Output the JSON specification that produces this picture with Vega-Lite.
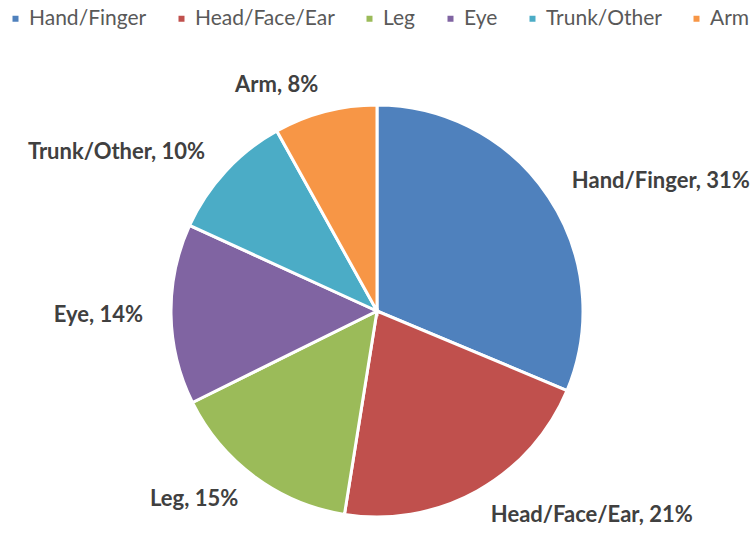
{
  "$schema": "https://vega.github.io/schema/vega-lite/v6.json",
  "width": 754,
  "height": 444,
  "autosize": {"type": "none"},
  "padding": {"top": 89, "left": 0, "right": 0, "bottom": 0},
  "background": "white",
  "config": {"view": {"stroke": null}},
  "data": {
    "values": [
      {"part": "Hand/Finger", "pct": 31, "idx": 1, "label": "Hand/Finger, 31%"},
      {"part": "Head/Face/Ear", "pct": 21, "idx": 2, "label": "Head/Face/Ear, 21%"},
      {"part": "Leg", "pct": 15, "idx": 3, "label": "Leg, 15%"},
      {"part": "Eye", "pct": 14, "idx": 4, "label": "Eye, 14%"},
      {"part": "Trunk/Other", "pct": 10, "idx": 5, "label": "Trunk/Other, 10%"},
      {"part": "Arm", "pct": 8, "idx": 6, "label": "Arm, 8%"}
    ]
  },
  "encoding": {
    "theta": {"field": "pct", "type": "quantitative", "stack": true},
    "order": {"field": "idx", "type": "ordinal"},
    "color": {
      "field": "part",
      "type": "nominal",
      "scale": {
        "domain": ["Hand/Finger", "Head/Face/Ear", "Leg", "Eye", "Trunk/Other", "Arm"],
        "range": ["#4F81BD", "#C0504D", "#9BBB59", "#8064A2", "#4BACC6", "#F79646"]
      },
      "legend": {
        "title": null,
        "orient": "none",
        "direction": "horizontal",
        "legendX": 5,
        "legendY": -81,
        "symbolType": "square",
        "symbolSize": 36,
        "symbolStrokeWidth": 0,
        "labelFont": "Lato",
        "labelFontSize": 21,
        "labelColor": "#595959",
        "labelOffset": 3,
        "columnPadding": 24,
        "labelLimit": 300
      }
    }
  },
  "layer": [
    {"mark": {"type": "arc", "outerRadius": 206, "stroke": "white", "strokeWidth": 3}},
    {
      "mark": {"type": "text", "radius": 234, "align": "left", "baseline": "middle", "font": "Lato", "fontWeight": "bold", "fontSize": 22},
      "encoding": {
        "text": {"condition": {"test": "datum.part == 'Hand/Finger' || datum.part == 'Head/Face/Ear'", "field": "label", "type": "nominal"}, "value": ""},
        "color": {"value": "#404040"}
      }
    },
    {
      "mark": {"type": "text", "radius": 234, "align": "right", "baseline": "middle", "font": "Lato", "fontWeight": "bold", "fontSize": 22},
      "encoding": {
        "text": {"condition": {"test": "datum.part != 'Hand/Finger' && datum.part != 'Head/Face/Ear'", "field": "label", "type": "nominal"}, "value": ""},
        "color": {"value": "#404040"}
      }
    }
  ]
}
